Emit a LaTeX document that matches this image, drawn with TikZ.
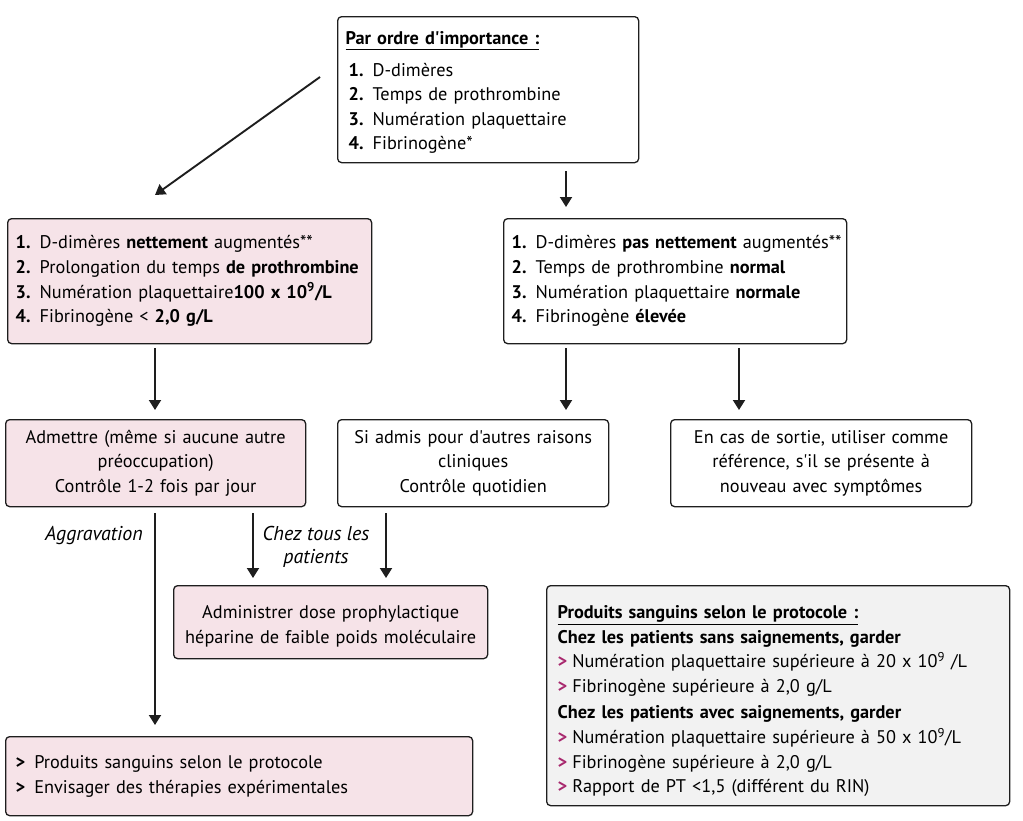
\documentclass[tikz,border=0pt]{standalone}
\usepackage{fontspec}
\setmainfont{PT Sans}[Ligatures=TeXOff]
\usetikzlibrary{arrows.meta}
\definecolor{pinkfill}{HTML}{F6E3E8}
\definecolor{grayfill}{HTML}{F2F2F2}
\definecolor{bulletc}{HTML}{A8286E}
\definecolor{linec}{HTML}{1E1E1E}
\newcommand{\mfs}{\fontsize{18.3}{24.6}\selectfont}
\newcommand{\ifs}{\fontsize{20}{23}\selectfont}
\newcommand{\bul}{{\color{bulletc}\textbf{>}}\hspace{5pt}}
\newcommand{\bbul}{\textbf{>}\hspace{9pt}}
\begin{document}
\begin{tikzpicture}[x=1pt,y=-1pt,
  box/.style={draw=linec, line width=1.3pt, rounded corners=4pt, anchor=north west,
    inner xsep=8pt, inner ysep=0pt, font=\mfs, align=left},
  cbox/.style={box, align=center},
  pink/.style={fill=pinkfill},
  arr/.style={draw=linec, line width=1.9pt, -{Triangle[width=12pt,length=10pt]}},
  lab/.style={font=\ifs\itshape, align=center, inner sep=0pt}]
\useasboundingbox (0,0) rectangle (1023,820);

% top box
\node[box, minimum width=301pt, minimum height=146pt, text width=285pt] (top) at (337,16)
  {\rule{0pt}{19pt}\underline{\textbf{Par ordre d'importance :}}\\[7pt]
   \hspace*{3pt}\textbf{1.} D-dimères\\
   \hspace*{3pt}\textbf{2.} Temps de prothrombine\\
   \hspace*{3pt}\textbf{3.} Numération plaquettaire\\
   \hspace*{3pt}\textbf{4.} Fibrinogène*};

% second row
\node[box, pink, minimum width=364pt, minimum height=125pt, text width=348pt] (left) at (7,218)
  {\textbf{1.} D-dimères \textbf{nettement} augmentés**\\
   \textbf{2.} Prolongation du temps \textbf{de prothrombine}\\
   \textbf{3.} Numération plaquettaire\textbf{100 x 10\textsuperscript{9}/L}\\
   \textbf{4.} Fibrinogène < \textbf{2,0 g/L}};
\node[box, minimum width=343pt, minimum height=125pt, text width=327pt] (right) at (503,218)
  {\mbox{\textbf{1.} D-dimères \textbf{pas nettement} augmentés**}\\
   \textbf{2.} Temps de prothrombine \textbf{normal}\\
   \textbf{3.} Numération plaquettaire \textbf{normale}\\
   \textbf{4.} Fibrinogène \textbf{élevée}};

% third row
\node[cbox, pink, minimum width=300pt, minimum height=87pt, text width=284pt] (adm) at (5,419)
  {Admettre (même si aucune autre\\ préoccupation)\\ Contrôle 1-2 fois par jour};
\node[cbox, minimum width=271pt, minimum height=87pt, text width=255pt] (mid) at (337,419)
  {Si admis pour d'autres raisons\\ cliniques\\ Contrôle quotidien};
\node[cbox, minimum width=301pt, minimum height=87pt, text width=285pt] (sortie) at (670,419)
  {En cas de sortie, utiliser comme\\ référence, s'il se présente à\\ nouveau avec symptômes};

% fourth row
\node[cbox, pink, minimum width=314pt, minimum height=73pt, text width=298pt] (hep) at (173,585)
  {\rule{0pt}{21pt}Administrer dose prophylactique\\ héparine de faible poids moléculaire};
\node[box, pink, minimum width=463pt, minimum height=79pt, text width=447pt, inner xsep=10pt] (prod) at (5,736)
  {\bbul Produits sanguins selon le protocole\\
   \bbul Envisager des thérapies expérimentales};

% legend
\node[box, fill=grayfill, minimum width=459pt, minimum height=220pt, text width=441pt, inner xsep=11pt] (leg) at (546,585)
  {\rule{0pt}{24pt}\underline{\textbf{Produits sanguins selon le protocole :}}\\
   \textbf{Chez les patients sans saignements, garder}\\
   \bul Numération plaquettaire supérieure à 20 x 10\textsuperscript{9} /L\\
   \bul Fibrinogène supérieure à 2,0 g/L\\[2pt]
   \textbf{Chez les patients avec saignements, garder}\\
   \bul Numération plaquettaire supérieure à 50 x 10\textsuperscript{9}/L\\
   \bul Fibrinogène supérieure à 2,0 g/L\\
   \bul Rapport de PT <1,5 (différent du RIN)};

% helper coordinates
\coordinate (dA) at (320,77);
\coordinate (dB) at (155,195);
\coordinate (x1) at (155,0);
\coordinate (x2) at (566,0);
\coordinate (x3) at (739,0);
\coordinate (x4) at (253,0);
\coordinate (x5) at (386,0);

% arrows
\draw[arr] (dA) -- (dB);
\draw[arr, shorten <=8pt, shorten >=11pt] (top.south -| x2) -- (right.north -| x2);
\draw[arr, shorten <=4pt, shorten >=9pt] (left.south -| x1) -- (adm.north -| x1);
\draw[arr, shorten <=4pt, shorten >=9pt] (right.south -| x2) -- (mid.north -| x2);
\draw[arr, shorten <=4pt, shorten >=9pt] (right.south -| x3) -- (sortie.north -| x3);
\draw[arr, shorten <=6pt, shorten >=11pt] (adm.south -| x1) -- (prod.north -| x1);
\draw[arr, shorten <=6pt, shorten >=7pt] (adm.south -| x4) -- (hep.north -| x4);
\draw[arr, shorten <=6pt, shorten >=7pt] (mid.south -| x5) -- (hep.north -| x5);

% labels
\node[lab, anchor=base east] (lagg) at (143,540) {Aggravation};
\node[lab, anchor=base] (lchez) at (316,563) {Chez tous les\\ patients};
\end{tikzpicture}
\end{document}
